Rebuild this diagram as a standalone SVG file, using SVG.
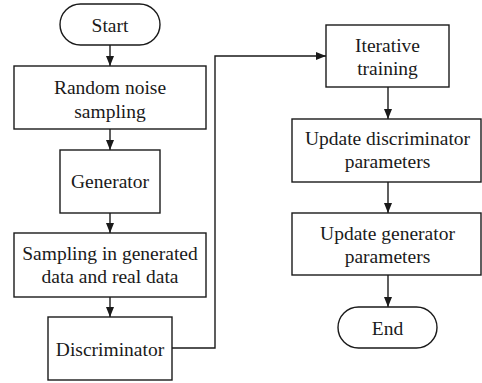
<svg xmlns="http://www.w3.org/2000/svg" width="482" height="383" viewBox="0 0 482 383" font-family="Liberation Serif, Times New Roman, serif">
  <style>
    .box { fill: #ffffff; stroke: #1a1a1a; stroke-width: 1.4; }
    .lbl { font-size: 19.5px; fill: #1a1a1a; text-anchor: middle; }
    .edge { fill: none; stroke: #1a1a1a; stroke-width: 1.4; marker-end: url(#arrow); }
  </style>
  <defs>
    <marker id="arrow" markerWidth="10" markerHeight="8" refX="10" refY="4" orient="auto" markerUnits="userSpaceOnUse">
      <path d="M0,0 L10,4 L0,8 Z" fill="#1a1a1a"/>
    </marker>
  </defs>
  <rect width="482" height="383" fill="#ffffff"/>

  <g id="connectors">
    <line class="edge" x1="110" y1="45" x2="110" y2="66"/>
    <line class="edge" x1="110" y1="129" x2="110" y2="150"/>
    <line class="edge" x1="110" y1="213" x2="110" y2="233"/>
    <line class="edge" x1="110" y1="297" x2="110" y2="317"/>
    <polyline class="edge" points="172,348 215,348 215,56 326,56"/>
    <line class="edge" x1="388" y1="87" x2="388" y2="119"/>
    <line class="edge" x1="388" y1="182" x2="388" y2="213"/>
    <line class="edge" x1="388" y1="275" x2="388" y2="307"/>
  </g>

  <g id="start">
    <rect class="box" x="60" y="4" width="100" height="41" rx="20.5"/>
    <text class="lbl" x="110" y="32" font-family="Liberation Serif, serif">Start</text>
  </g>
  <g id="random-noise">
    <rect class="box" x="14" y="66" width="192" height="63"/>
    <text class="lbl" x="110" y="94" font-family="Liberation Serif, serif">Random noise</text>
    <text class="lbl" x="110" y="118" font-family="Liberation Serif, serif">sampling</text>
  </g>
  <g id="generator">
    <rect class="box" x="60" y="150" width="100" height="63"/>
    <text class="lbl" x="110" y="188" font-family="Liberation Serif, serif">Generator</text>
  </g>
  <g id="sampling">
    <rect class="box" x="14" y="233" width="192" height="64"/>
    <text class="lbl" x="110" y="260" font-family="Liberation Serif, serif">Sampling in generated</text>
    <text class="lbl" x="110" y="283" font-family="Liberation Serif, serif">data and real data</text>
  </g>
  <g id="discriminator">
    <rect class="box" x="48" y="317" width="124" height="63"/>
    <text class="lbl" x="110" y="356" font-family="Liberation Serif, serif">Discriminator</text>
  </g>
  <g id="iterative">
    <rect class="box" x="326" y="25" width="123" height="62"/>
    <text class="lbl" x="387.5" y="52" font-family="Liberation Serif, serif">Iterative</text>
    <text class="lbl" x="387.5" y="75" font-family="Liberation Serif, serif">training</text>
  </g>
  <g id="update-discriminator">
    <rect class="box" x="292" y="119" width="189" height="63"/>
    <text class="lbl" x="387.5" y="145" font-family="Liberation Serif, serif">Update discriminator</text>
    <text class="lbl" x="387.5" y="168" font-family="Liberation Serif, serif">parameters</text>
  </g>
  <g id="update-generator">
    <rect class="box" x="292" y="213" width="189" height="62"/>
    <text class="lbl" x="387.5" y="240" font-family="Liberation Serif, serif">Update generator</text>
    <text class="lbl" x="387.5" y="263" font-family="Liberation Serif, serif">parameters</text>
  </g>
  <g id="end">
    <rect class="box" x="338" y="307" width="99" height="41" rx="20.5"/>
    <text class="lbl" x="387.5" y="335" font-family="Liberation Serif, serif">End</text>
  </g>
</svg>
